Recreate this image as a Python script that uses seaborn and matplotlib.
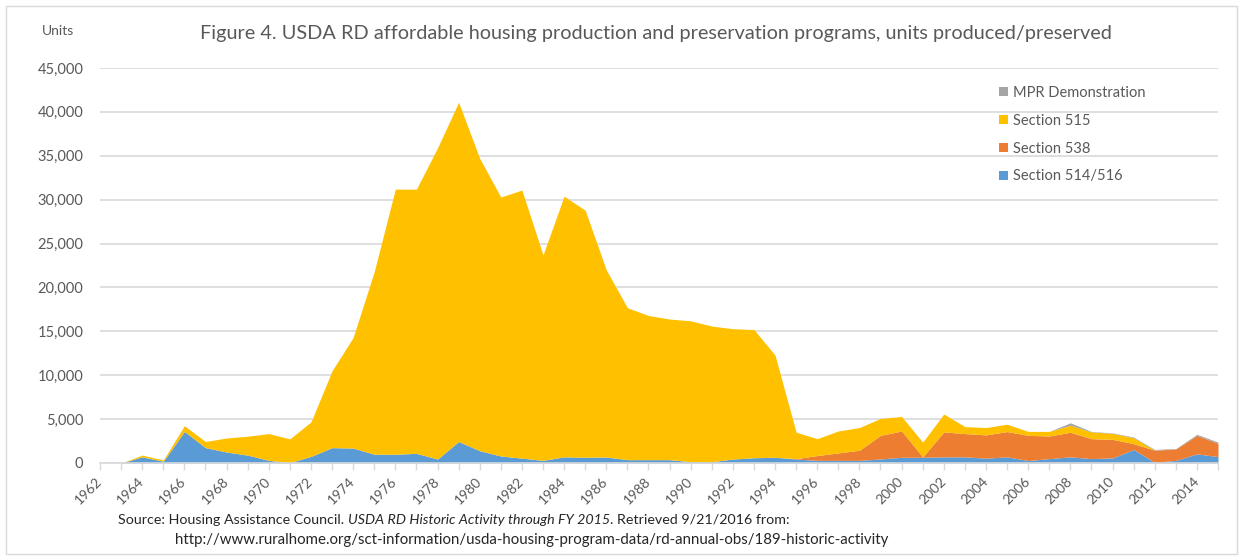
import matplotlib
matplotlib.use('Agg')
import matplotlib.pyplot as plt
from matplotlib.patches import Rectangle
from matplotlib.ticker import FuncFormatter, MultipleLocator
import seaborn as sns

# data (units per fiscal year)
years = list(range(1962, 2016))
sec_514_516 = [0, 0, 700, 200, 3600, 1750, 1250, 900, 300, 50,
               750, 1750, 1700, 1000, 1000, 1100, 450, 2450, 1400, 800,
               550, 300, 700, 650, 680, 380, 380, 380, 150, 150,
               450, 600, 650, 450, 300, 300, 300, 460, 650, 650,
               700, 700, 550, 700, 280, 500, 700, 500, 580, 1540,
               80, 300, 1040, 730]
sec_538 = [0] * 33 + [50, 550, 850, 1150, 2690, 3000, 50,
                      2840, 2650, 2650, 2880, 2870, 2580, 2800, 2270, 2120, 660,
                      1380, 1300, 2110, 1500]
sec_515 = [0, 0, 200, 150, 650, 700, 1600, 2150, 3050, 2700,
           3930, 8750, 12600, 20800, 30200, 30100, 35450, 38650, 33300, 29500,
           30550, 23400, 29700, 28150, 21320, 17320, 16420, 16020, 16050, 15450,
           14850, 14600, 11650, 3010, 1920, 2500, 2590, 1930, 1650, 1680,
           2040, 800, 840, 840, 450, 520, 800, 770, 680, 680,
           0, 0, 0, 0]
mpr_demo = [0] * 46 + [280, 50, 50, 80, 80, 50, 120, 150]

series_names = ['Section 514/516', 'Section 538', 'Section 515', 'MPR Demonstration']
colors = ['#5B9BD5', '#ED7D31', '#FFC000', '#A5A5A5']

sns.set_theme(style='whitegrid')
plt.rcParams['font.family'] = ['Lato', 'DejaVu Sans']
grey_txt = '#595959'
grid_col = '#D9D9D9'

W, H = 1243, 559
fig = plt.figure(figsize=(W / 100, H / 100), dpi=100)
fig.patch.set_facecolor('white')
ax = fig.add_axes([100 / W, 1 - 463 / H, 1118 / W, 395 / H])
ax.set_facecolor('white')

polys = ax.stackplot(years, sec_514_516, sec_538, sec_515, mpr_demo,
                     colors=colors, labels=series_names, linewidth=0)

ax.set_xlim(1962, 2015)
ax.set_ylim(0, 45000)
ax.yaxis.set_major_locator(MultipleLocator(5000))
ax.yaxis.set_major_formatter(FuncFormatter(lambda v, p: f'{int(v):,}'))
ax.set_axisbelow(True)
ax.grid(axis='y', color=grid_col, linewidth=1.2)
ax.grid(axis='x', visible=False)
for s in ['left', 'top', 'right']:
    ax.spines[s].set_visible(False)
ax.spines['bottom'].set_color(grid_col)
ax.spines['bottom'].set_linewidth(1.2)

# category ticks every year, labels every other year, text ending at the tick
ax.set_xticks(years)
ax.set_xticklabels([str(y) if (y - 1962) % 2 == 0 else '' for y in years],
                   rotation=45, ha='right', va='center', rotation_mode='anchor')
ax.tick_params(axis='x', bottom=True, length=5, width=1, color=grid_col,
               pad=7, labelsize=10, labelcolor=grey_txt)
ax.tick_params(axis='y', length=0, pad=12, labelsize=10.5, labelcolor=grey_txt)

fig.text(656 / W, 1 - 33 / H,
         'Figure 4. USDA RD affordable housing production and preservation programs, units produced/preserved',
         ha='center', va='center', fontsize=14.35, color=grey_txt)
fig.text(42 / W, 1 - 31 / H, 'Units', ha='left', va='center', fontsize=10, color=grey_txt)

leg = fig.legend(polys[::-1], series_names[::-1], loc='upper left',
                 bbox_to_anchor=(993 / W, 1 - 80 / H), frameon=False,
                 fontsize=10.5, handlelength=0.6, handleheight=0.6,
                 handletextpad=0.35, labelspacing=0.95, borderaxespad=0)
for t in leg.get_texts():
    t.set_color(grey_txt)

# source note, with the italic title in the middle
fig.canvas.draw()
r = fig.canvas.get_renderer()
def width_px(s, **kw):
    t = fig.text(0, 0, s, **kw)
    w = t.get_window_extent(renderer=r).width
    t.remove()
    return w

src_kw = dict(fontsize=10.3, color='#262626', va='center', ha='left')
gap = width_px('x x', **src_kw) - width_px('xx', **src_kw)
x = 118
y = 1 - 520 / H
for piece, style, sep in [('Source: Housing Assistance Council.', 'normal', gap),
                          ('USDA RD Historic Activity through FY 2015', 'italic', 0),
                          ('. Retrieved 9/21/2016 from:', 'normal', 0)]:
    t = fig.text(x / W, y, piece, style=style, **src_kw)
    x = t.get_window_extent(renderer=r).x1 + sep
fig.text(175 / W, 1 - 540 / H,
         'http://www.ruralhome.org/sct-information/usda-housing-program-data/rd-annual-obs/189-historic-activity',
         **dict(src_kw, fontsize=10.8))

fig.patches.append(Rectangle((6 / W, 5 / H), 1231 / W, 548 / H, transform=fig.transFigure,
                             fill=False, edgecolor=grid_col, linewidth=1))

fig.savefig('out.png', dpi=100, facecolor='white')
